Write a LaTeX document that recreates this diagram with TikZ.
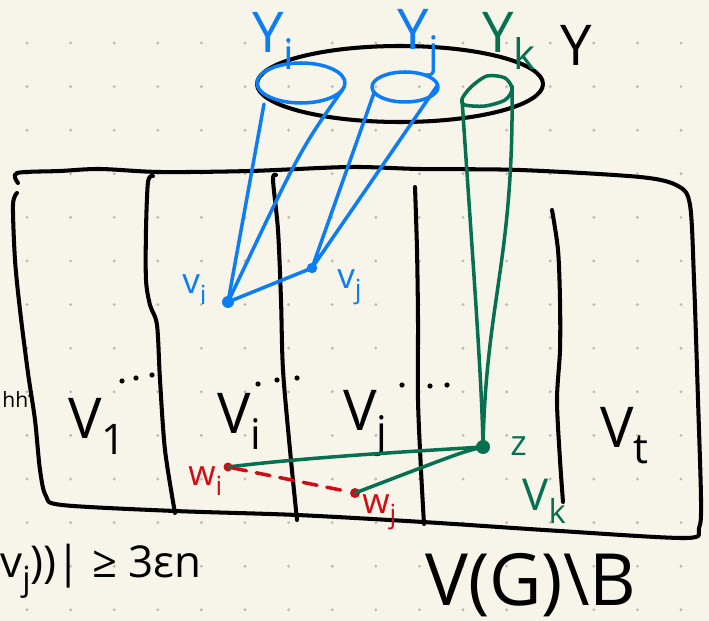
\documentclass[tikz,border=0pt]{standalone}
\usepackage{fontspec}
\setmainfont{Open Sans}
\usepackage{graphicx}
\usetikzlibrary{positioning}
\definecolor{Paper}{RGB}{247,245,233}
\definecolor{GridDot}{RGB}{188,187,180}
\definecolor{PenBlue}{RGB}{12,125,245}
\definecolor{PenGreen}{RGB}{6,112,80}
\definecolor{PenRed}{RGB}{208,12,22}
\newcommand{\lsub}[1]{\raisebox{-0.3em}{\scalebox{0.75}{#1}}}

\begin{document}
\begin{tikzpicture}[x=0.02cm,y=-0.02cm,
    pen/.style={line width=2.3pt,line cap=round,line join=round},
    bluepen/.style={pen,line width=2pt,PenBlue},
    greenpen/.style={pen,line width=2pt,PenGreen},
    redpen/.style={pen,line width=2pt,PenRed},
    dotv/.style={circle,fill,inner sep=0pt,minimum size=#1},
    dotv/.default=0.22cm,
    biglab/.style={font=\fontsize{32}{34}\selectfont,inner sep=0pt,anchor=base west},
    midlab/.style={font=\fontsize{25}{27}\selectfont,inner sep=0pt,anchor=base west},
    smalllab/.style={font=\fontsize{20}{22}\selectfont,inner sep=0pt,anchor=base west}
]

% Paper and dot grid
\fill[Paper] (0,0) rectangle (709,621);
\useasboundingbox (0,0) rectangle (709,621);
\foreach \i in {0,...,15}
  \foreach \j in {0,...,13}
    \fill[GridDot] ({27+43.6*\i},{43+43.6*\j}) circle[radius=1.6];

% V(G)\B outline
\draw[pen] plot[smooth,tension=0.5] coordinates {(18,183) (17,173) (60,171) (100,169)
    (160,172) (250,171) (350,167) (420,169) (520,170) (640,177) (678,186) (690,205)
    (694,280) (698,400) (701,500) (699,528) (686,538) (560,531) (423,522) (297,515)
    (175,511) (62,505) (46,496) (40,470) (35,420) (28,373) (20,310) (15,260) (13,205) (17,193)};

% Parts V_1, V_i, V_j, ..., V_k, V_t
\draw[pen] plot[smooth] coordinates {(153,176) (148,182) (146,230) (146,280) (150,305)
    (157,325) (160,380) (165,450) (175,513)};
\draw[pen] plot[smooth] coordinates {(276,175) (273,180) (278,230) (281,300) (283,370)
    (290,450) (297,520)};
\draw[pen] plot[smooth] coordinates {(415,187) (417,250) (418,320) (418,400) (421,470)
    (424,524)};
\draw[pen] plot[smooth] coordinates {(552,210) (558,250) (560,300) (560,350) (557,400)
    (560,460) (563,502)};

% dots between the parts
\foreach \p in {(122,381),(136,378),(152,375),(258,384),(277,380),(297,378),
                (402,385),(430,386),(447,385)}
  \fill \p circle[radius=2.6];

\node[biglab] (labV1) at (68,438) {V\lsub{1}};
\node[biglab] (labVi) at (217,433) {V\lsub{i}};
\node[biglab] (labVj) at (343,430) {V\lsub{j}};
\node[biglab] (labVt) at (600,447) {V\lsub{t}};
\node[midlab,PenGreen] (labVk) at (522,510) {V\lsub{k}};

% Y and its parts Y_i, Y_j, Y_k
\coordinate (Y) at (400,84);
\draw[pen] (Y) ellipse[x radius=143,y radius=38];
\coordinate (Yi) at (301,83);
\draw[bluepen] (Yi) ellipse[x radius=44,y radius=20];
\coordinate (Yj) at (405,87);
\draw[bluepen] (Yj) ellipse[x radius=33,y radius=15];
\draw[greenpen] plot[smooth cycle] coordinates {(462,99) (471,87) (487,76) (505,78)
    (512,89) (505,100) (485,106) (465,105)};

\node[biglab,PenBlue] (labYi) at (252,53) {Y\lsub{i}};
\node[biglab,PenBlue] (labYj) at (397,50) {Y\lsub{j}};
\node[biglab,PenGreen] (labYk) at (482,53) {Y\lsub{k}};
\node[biglab] (labY) at (560,66) {Y};

% cone tops
\coordinate (yil) at (264,104);
\coordinate (yir) at (343,89);
\coordinate (yjl) at (374,93);
\coordinate (yjr) at (437,86);
\coordinate (ykl) at (462,99);
\coordinate (ykr) at (512,86);

% vertices
\node[dotv=0.24cm,PenBlue] (vi) at (228,302) {};
\node[dotv=0.21cm,PenBlue] (vj) at (312,268) {};
\node[dotv=0.28cm,PenGreen] (z) at (483,447) {};
\node[dotv=0.18cm,PenRed] (wi) at (228,467) {};
\node[dotv=0.2cm,PenRed] (wj) at (355,493) {};

\node[smalllab,PenBlue] (labvi) at (182,294) {v\lsub{i}};
\node[smalllab,PenBlue] (labvj) at (337,288) {v\lsub{j}};
\node[smalllab,PenGreen] (labz) at (510,455) {z};
\node[smalllab,PenRed] (labwi) at (188,485) {w\lsub{i}};
\node[smalllab,PenRed] (labwj) at (362,513) {w\lsub{j}};

% cones
\draw[bluepen] (yil) -- (vi.center);
\draw[bluepen] (vi.center) .. controls (300,150) .. (yir);
\draw[bluepen] (yjl) -- (vj.center) -- (yjr);
\draw[bluepen] (vi.center) -- (vj.center);
\draw[greenpen] (ykl) .. controls (472,250) and (482,380) .. (z.center);
\draw[greenpen] (ykr) .. controls (514,260) and (486,300) .. (z.center);

% edges from z
\draw[greenpen] (z.center) .. controls (400,452) and (300,458) .. (wi.center);
\draw[greenpen] (z.center) .. controls (462,452) .. (wj.center);
\draw[redpen,dash pattern=on 0.28cm off 0.2cm] (wi) -- (wj);

% side texts
\node[smalllab,font=\fontsize{12}{14}\selectfont] (labhh) at (2,407) {hh'};
\node[midlab,anchor=base east] (labdeg) at (202,577) {v\lsub{j}))| ≥ 3εn};
\node[biglab,font=\fontsize{41}{44}\selectfont] (labVGB) at (425,605) {V(G)\textbackslash B};

\end{tikzpicture}
\end{document}
